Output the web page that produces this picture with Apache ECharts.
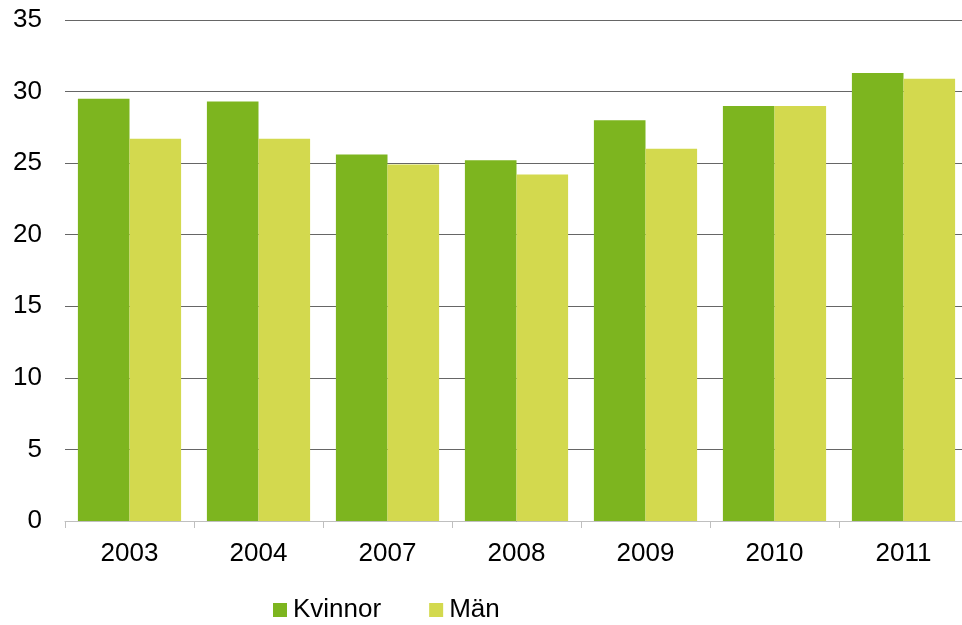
<!DOCTYPE html>
<html><head><meta charset="utf-8">
<script src="https://cdn.jsdelivr.net/npm/echarts@6/dist/echarts.min.js"></script>
<style>html,body{margin:0;padding:0;background:#fff;overflow:hidden}#c{width:968px;height:625px}</style>
</head><body><div id="c"></div>
<script>
const categories = ['2003','2004','2007','2008','2009','2010','2011'];
const kvinnor = [29.5, 29.3, 25.6, 25.2, 28.0, 29.0, 31.3];
const man = [26.7, 26.7, 24.9, 24.2, 26.0, 29.0, 30.9];
const seriesNames = ['Kvinnor','Män'];
const chart = echarts.init(document.getElementById('c'));
const font = 'Liberation Sans, Arial, sans-serif';
chart.setOption({
  animation: false,
  textStyle: {fontFamily: font},
  grid: {left: 65, right: 0, top: 20, bottom: 104},
  legend: {
    left: 273, top: 597, padding: 0, itemWidth: 14, itemHeight: 14, itemGap: 48,
    icon: 'rect',
    textStyle: {fontSize: 26, color: '#000', fontFamily: font, padding: [0,0,0,1]},
    data: seriesNames
  },
  xAxis: {
    type: 'category', data: categories, boundaryGap: true,
    axisLine: {lineStyle: {color: '#bfbfbf', width: 1}},
    axisTick: {show: true, length: 7, lineStyle: {color: '#bfbfbf'}},
    axisLabel: {fontSize: 26, color: '#000', margin: 20, fontFamily: font}
  },
  yAxis: {
    type: 'value', min: 0, max: 35, interval: 5,
    axisLine: {show: false}, axisTick: {show: false},
    splitLine: {lineStyle: {color: '#666', width: 1.2}},
    axisLabel: {fontSize: 26, color: '#000', margin: 23, fontFamily: font}
  },
  series: [
    {name: seriesNames[0], type: 'bar', data: kvinnor, barGap: '0%', barCategoryGap: '20%',
     itemStyle: {color: '#7db51f'}},
    {name: seriesNames[1], type: 'bar', data: man, barGap: '0%', barCategoryGap: '20%',
     itemStyle: {color: '#d3d94e'}}
  ]
});
</script></body></html>
